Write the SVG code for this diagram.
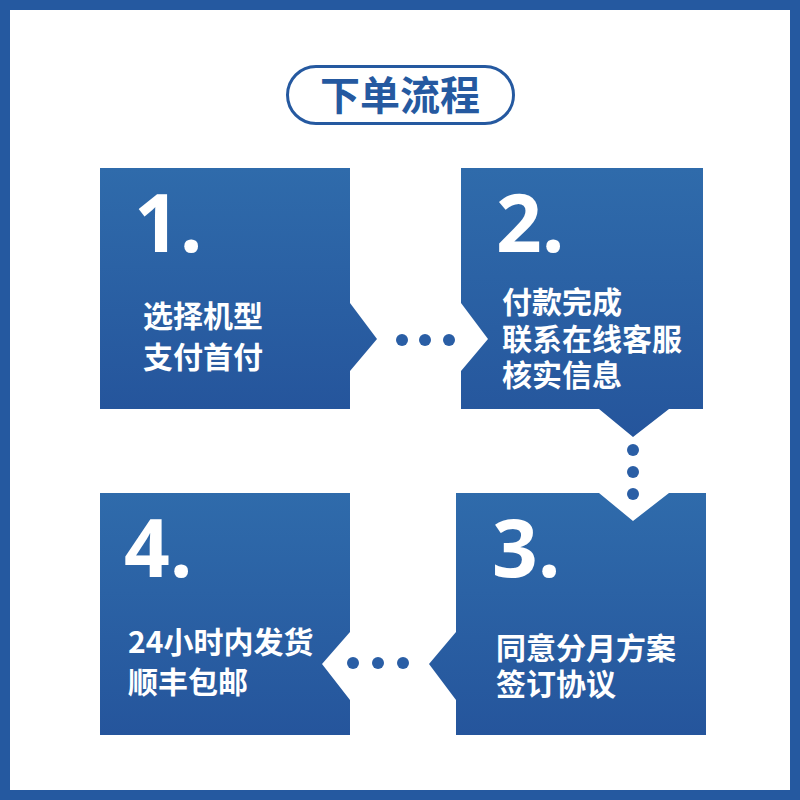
<svg xmlns="http://www.w3.org/2000/svg" width="800" height="800" viewBox="0 0 800 800">
<defs>
<linearGradient id="g" x1="0" y1="0" x2="0" y2="1">
<stop offset="0" stop-color="#2f6bab"/>
<stop offset="1" stop-color="#25559c"/>
</linearGradient>
<style>
.box{fill:url(#g);}
.num{font-family:"Open Sans","Noto Sans CJK SC",sans-serif;font-weight:700;font-size:80px;fill:#fff;}
.lbl{font-family:"Noto Sans CJK SC",sans-serif;font-weight:700;font-size:30px;fill:#fff;}
.dot{fill:#2a5ea5;}
</style>
</defs>
<rect x="0" y="0" width="800" height="800" fill="#2559a0"/>
<rect x="10" y="10" width="780" height="780" fill="#fff"/>
<g id="title">
<rect x="287.5" y="66.5" width="226" height="57" rx="28.5" fill="#fff" stroke="#2559a0" stroke-width="3"/>
<text x="400" y="110" text-anchor="middle" font-family="'Noto Sans CJK SC',sans-serif" font-weight="700" font-size="40" fill="#2559a0">下单流程</text>
</g>
<g id="step1">
<path class="box" d="M100,168H350V303L377,339L350,371V409H100Z"/>
<text class="num" x="134" y="252">1.</text>
<text class="lbl"><tspan x="143" y="327">选择机型</tspan><tspan x="143" y="368">支付首付</tspan></text>
</g>
<g id="step2">
<path class="box" d="M461,168H703V409H669L633,437L599,409H461V371L488,339L461,303Z"/>
<text class="num" x="496" y="252">2.</text>
<text class="lbl"><tspan x="502" y="313">付款完成</tspan><tspan x="502" y="350">联系在线客服</tspan><tspan x="502" y="386">核实信息</tspan></text>
</g>
<g id="step3">
<path class="box" d="M456,493H599L633,521L669,493H706V735H456V700L429,664L456,632Z"/>
<text class="num" x="492" y="577">3.</text>
<text class="lbl"><tspan x="496" y="659">同意分月方案</tspan><tspan x="496" y="695">签订协议</tspan></text>
</g>
<g id="step4">
<path class="box" d="M100,493H350V632L322,664L350,700V735H100Z"/>
<text class="num" x="124" y="577">4.</text>
<text class="lbl"><tspan x="128" y="653">24小时内发货</tspan><tspan x="128" y="693">顺丰包邮</tspan></text>
</g>
<g id="connectors">
<circle class="dot" cx="402" cy="340" r="6"/>
<circle class="dot" cx="425" cy="340" r="6"/>
<circle class="dot" cx="449" cy="340" r="6"/>
<circle class="dot" cx="633" cy="450" r="6"/>
<circle class="dot" cx="633" cy="472" r="6"/>
<circle class="dot" cx="633" cy="494" r="6"/>
<circle class="dot" cx="353" cy="663" r="6"/>
<circle class="dot" cx="378" cy="663" r="6"/>
<circle class="dot" cx="403" cy="663" r="6"/>
</g>
</svg>
